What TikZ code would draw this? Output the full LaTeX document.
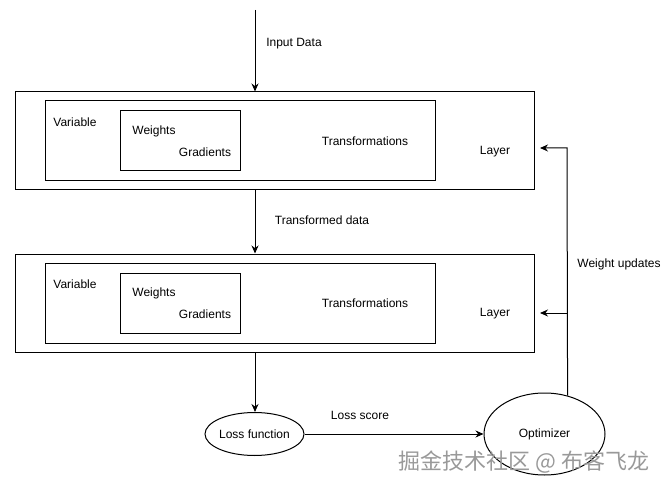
\documentclass[tikz,border=0pt]{standalone}
\usepackage{fontspec}
\setmainfont{Liberation Sans}
\newfontfamily\cjkfont{Noto Sans CJK SC}
\usetikzlibrary{arrows.meta,shapes.geometric}

\begin{document}
\begin{tikzpicture}[x=1pt,y=-1pt,line width=1pt,
		box/.style={draw,rectangle,inner sep=0pt},
		lbl/.style={font=\fontsize{12}{14}\selectfont,inner sep=0pt},
		arr/.style={-{Stealth[length=8pt,width=7pt]}},
		oval/.style={draw,ellipse,inner sep=0pt}]
		\useasboundingbox (0,0) rectangle (669,489);
		% first layer
		\node[box,minimum width=519pt,minimum height=98pt] (lay1) at (274.5,141) {};
		\node[box,minimum width=390pt,minimum height=80pt] (var1) at (240,141) {};
		\node[box,minimum width=120pt,minimum height=60pt] (wts1) at (180,141) {};
		\node[lbl] (v1) at (75,122) {Variable};
		\node[lbl] (w1) at (154,131) {Weights};
		\node[lbl] (g1) at (205,152) {Gradients};
		\node[lbl] (tr1) at (365,141) {Transformations};
		\node[lbl] (l1) at (495,152) {Layer};
		% second layer
		\node[box,minimum width=519pt,minimum height=98pt] (lay2) at (274.5,303) {};
		\node[box,minimum width=390pt,minimum height=80pt] (var2) at (240,303) {};
		\node[box,minimum width=120pt,minimum height=60pt] (wts2) at (180,303) {};
		\node[lbl] (v2) at (75,284) {Variable};
		\node[lbl] (w2) at (154,293) {Weights};
		\node[lbl] (g2) at (205,314) {Gradients};
		\node[lbl] (tr2) at (365,303) {Transformations};
		\node[lbl] (l2) at (495,314) {Layer};
		% loss and optimizer
		\node[oval,minimum width=99pt,minimum height=43pt] (loss) at (254.5,434) {};
		\node[lbl] at (loss) {Loss function};
		\node[oval,minimum width=121pt,minimum height=82pt] (opt) at (544.5,434) {};
		\node[lbl] at (opt) {Optimizer};
		% arrows
		\coordinate (in) at (255,10);
		\coordinate (up1) at (567,148);
		\coordinate (up2) at (567,313);
		\coordinate (t1) at (540,148);
		\coordinate (t2) at (540,313);
		\draw[arr] (in) -- (in |- lay1.north);
		\draw[arr] (in |- lay1.south) -- (in |- lay2.north);
		\draw[arr] (in |- lay2.south) -- (in |- loss.north);
		\draw[arr] (loss.east) -- (opt.west);
		\draw[arr] (opt.59) -- (up1) -- (t1);
		\draw[arr] (up2) -- (t2);
		\node[lbl] (indata) at (294,44) {Input Data};
		\node[lbl] (trdata) at (322,220) {Transformed data};
		\node[lbl] (lscore) at (360,415) {Loss score};
		\node[lbl] (wupd) at (619,264) {Weight updates};
		\node[font=\cjkfont\fontsize{22}{24}\selectfont,text=gray!80,inner sep=0pt] (wm) at (524,462) {掘金技术社区 @ 布客飞龙};
\end{tikzpicture}
\end{document}
